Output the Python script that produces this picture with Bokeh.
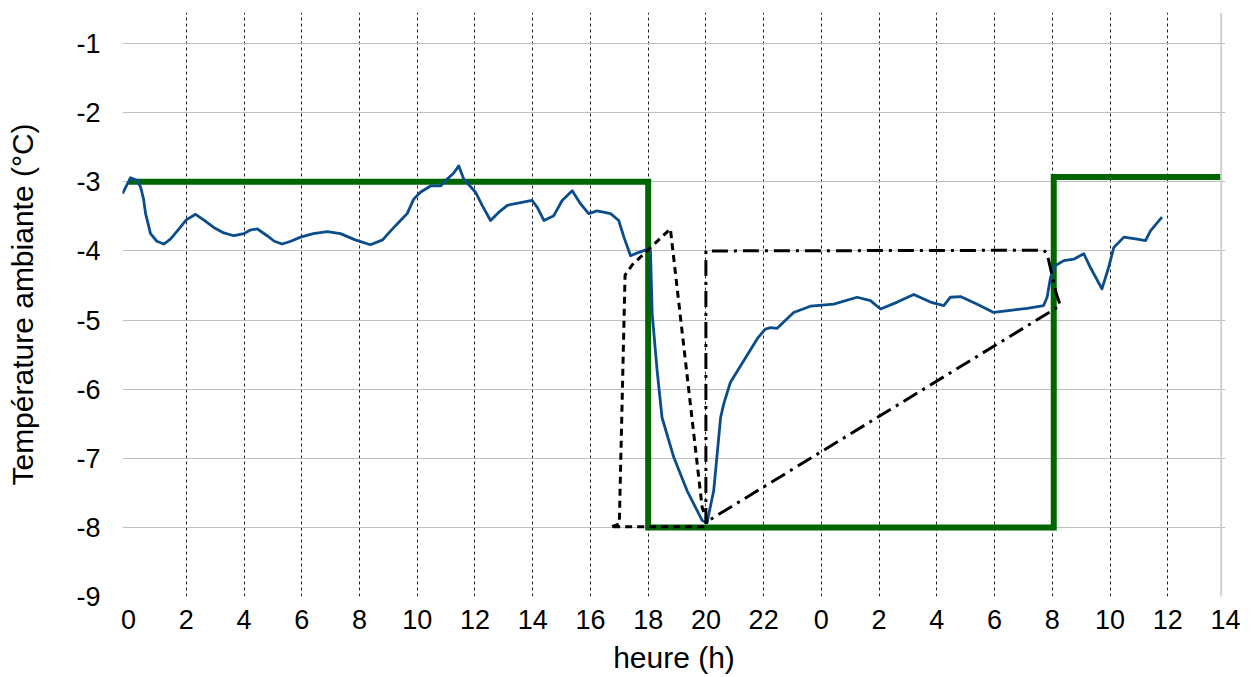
from bokeh.plotting import figure
from bokeh.models import FixedTicker, Span
from bokeh.embed import file_html
from bokeh.resources import INLINE

# ---------------- data ----------------
# measured room temperature (blue)
temp_h = [-0.21, 0.07, 0.30, 0.42, 0.52, 0.59, 0.76, 0.98, 1.22, 1.45, 1.69, 2.0, 2.32, 2.60,
          2.95, 3.30, 3.65, 4.0, 4.20, 4.46, 4.8, 5.05, 5.32, 5.62, 5.96, 6.40, 6.88, 7.34,
          7.85, 8.38, 8.8, 9.08, 9.42, 9.65, 9.88, 10.11, 10.46, 10.81, 11.04, 11.25,
          11.44, 11.61, 12.02, 12.25, 12.54, 12.80, 13.12, 13.58, 13.98, 14.16, 14.39, 14.73,
          15.02, 15.37, 15.66, 15.94, 16.23, 16.70, 16.98, 17.16, 17.39, 17.68, 18.02, 18.08,
          18.14, 18.31, 18.48, 18.89, 19.35, 19.87, 20.04, 20.27, 20.51, 20.62, 20.85, 21.31,
          21.78, 22.06, 22.24, 22.47, 23.04, 23.62, 24.43, 25.24, 25.70, 26.05, 26.63, 27.20,
          27.78, 28.24, 28.47, 28.82, 29.40, 29.97, 30.55, 31.13, 31.70, 31.82, 31.94, 32.11,
          32.40, 32.74, 33.09, 33.32, 33.72, 33.95, 34.13, 34.48, 34.94, 35.23, 35.40, 35.80]
temp_c = [-3.17, -2.94, -2.98, -3.08, -3.25, -3.46, -3.75, -3.86, -3.90, -3.83, -3.71, -3.55,
          -3.47, -3.55, -3.66, -3.74, -3.78, -3.75, -3.70, -3.68, -3.78, -3.86, -3.90, -3.86,
          -3.80, -3.75, -3.72, -3.75, -3.84, -3.91, -3.84, -3.71, -3.56, -3.46, -3.25, -3.15,
          -3.06, -3.06, -2.96, -2.88, -2.77, -2.96, -3.15, -3.34, -3.56, -3.45, -3.34, -3.30,
          -3.27, -3.37, -3.56, -3.49, -3.27, -3.13, -3.32, -3.46, -3.42, -3.46, -3.56, -3.80,
          -4.07, -4.02, -3.97, -4.00, -4.91, -5.73, -6.41, -6.99, -7.47, -7.90, -7.93, -7.47,
          -6.41, -6.21, -5.90, -5.59, -5.27, -5.13, -5.11, -5.12, -4.89, -4.80, -4.77, -4.67,
          -4.72, -4.84, -4.74, -4.63, -4.74, -4.79, -4.67, -4.66, -4.77, -4.89, -4.86, -4.83,
          -4.79, -4.67, -4.38, -4.21, -4.14, -4.12, -4.04, -4.24, -4.55, -4.24, -3.95, -3.80,
          -3.83, -3.85, -3.71, -3.51]

# setpoint (green)
set_h = [0.0, 18.0, 18.0, 32.05, 32.05, 37.85]
set_c = [-3.0, -3.0, -8.0, -8.0, -2.93, -2.93]

# dotted curve
dot_h = [16.75, 17.0, 17.2, 17.45, 18.77, 19.87, 20.04, 20.0, 16.75]
dot_c = [-7.99, -7.95, -4.35, -4.2, -3.68, -7.71, -7.90, -7.99, -7.99]

# dash-dot curve
dd_h = [20.0, 20.0, 31.70, 31.82, 32.14, 32.28, 20.1]
dd_c = [-7.95, -4.0, -3.99, -4.04, -4.62, -4.79, -7.9]

x_ticks = list(range(0, 39, 2))
x_labels = {t: str(t % 24) for t in x_ticks}
y_ticks = [-9, -8, -7, -6, -5, -4, -3, -2, -1]
y_labels = {t: "-%d" % abs(t) for t in y_ticks}

X_START, X_END = -0.21, 38.0
PLOT_EDGE = 37.85
Y_START, Y_END = -9.0, -0.55

FONT = "Liberation Sans"
FS = "27px"
FT = "30px"

p = figure(width=1249, height=677, output_backend="svg", toolbar_location=None,
           x_range=(X_START, X_END), y_range=(Y_START, Y_END),
           min_border_left=122, min_border_right=24, min_border_top=12, min_border_bottom=81)
p.outline_line_color = None
p.background_fill_color = "white"

# grids
p.xgrid.ticker = FixedTicker(ticks=x_ticks[1:-1])
p.xgrid.grid_line_color = "#202020"
p.xgrid.grid_line_dash = "3 3"
p.xgrid.grid_line_width = 1
p.ygrid.ticker = FixedTicker(ticks=y_ticks)
p.ygrid.grid_line_color = "#BFBFBF"
p.ygrid.grid_line_width = 1

# axes
p.xaxis.ticker = FixedTicker(ticks=x_ticks)
p.xaxis.major_label_overrides = x_labels
p.yaxis.ticker = FixedTicker(ticks=y_ticks)
p.yaxis.major_label_overrides = y_labels
for ax in (p.xaxis[0], p.yaxis[0]):
    ax.axis_line_color = None
    ax.major_tick_line_color = None
    ax.minor_tick_line_color = None
    ax.major_tick_out = 0
    ax.major_tick_in = 0
    ax.major_label_text_font = FONT
    ax.major_label_text_font_size = FS
    ax.major_label_text_color = "black"
    ax.axis_label_text_font = FONT
    ax.axis_label_text_font_size = FT
    ax.axis_label_text_font_style = "normal"
    ax.axis_label_text_color = "black"
p.xaxis.major_label_standoff = 13
p.yaxis.major_label_standoff = 22
p.xaxis.axis_label = "heure (h)"
p.yaxis.axis_label = "Température ambiante (°C)"
p.xaxis.axis_label_standoff = 9
p.yaxis.axis_label_standoff = 34

# right border of plot area
p.add_layout(Span(location=PLOT_EDGE, dimension="height", line_color="#D0D0D0", line_width=2))

# series
p.line(set_h, set_c, line_color="#006600", line_width=6, line_join="miter")
p.line(temp_h, temp_c, line_color="#0B4C8C", line_width=2.8, line_join="round")
p.line(dot_h, dot_c, line_color="black", line_width=3, line_dash="7 5")
p.line(dd_h, dd_c, line_color="black", line_width=3, line_dash="16 6 3 6")

open("out.html", "w").write(file_html(p, INLINE))
